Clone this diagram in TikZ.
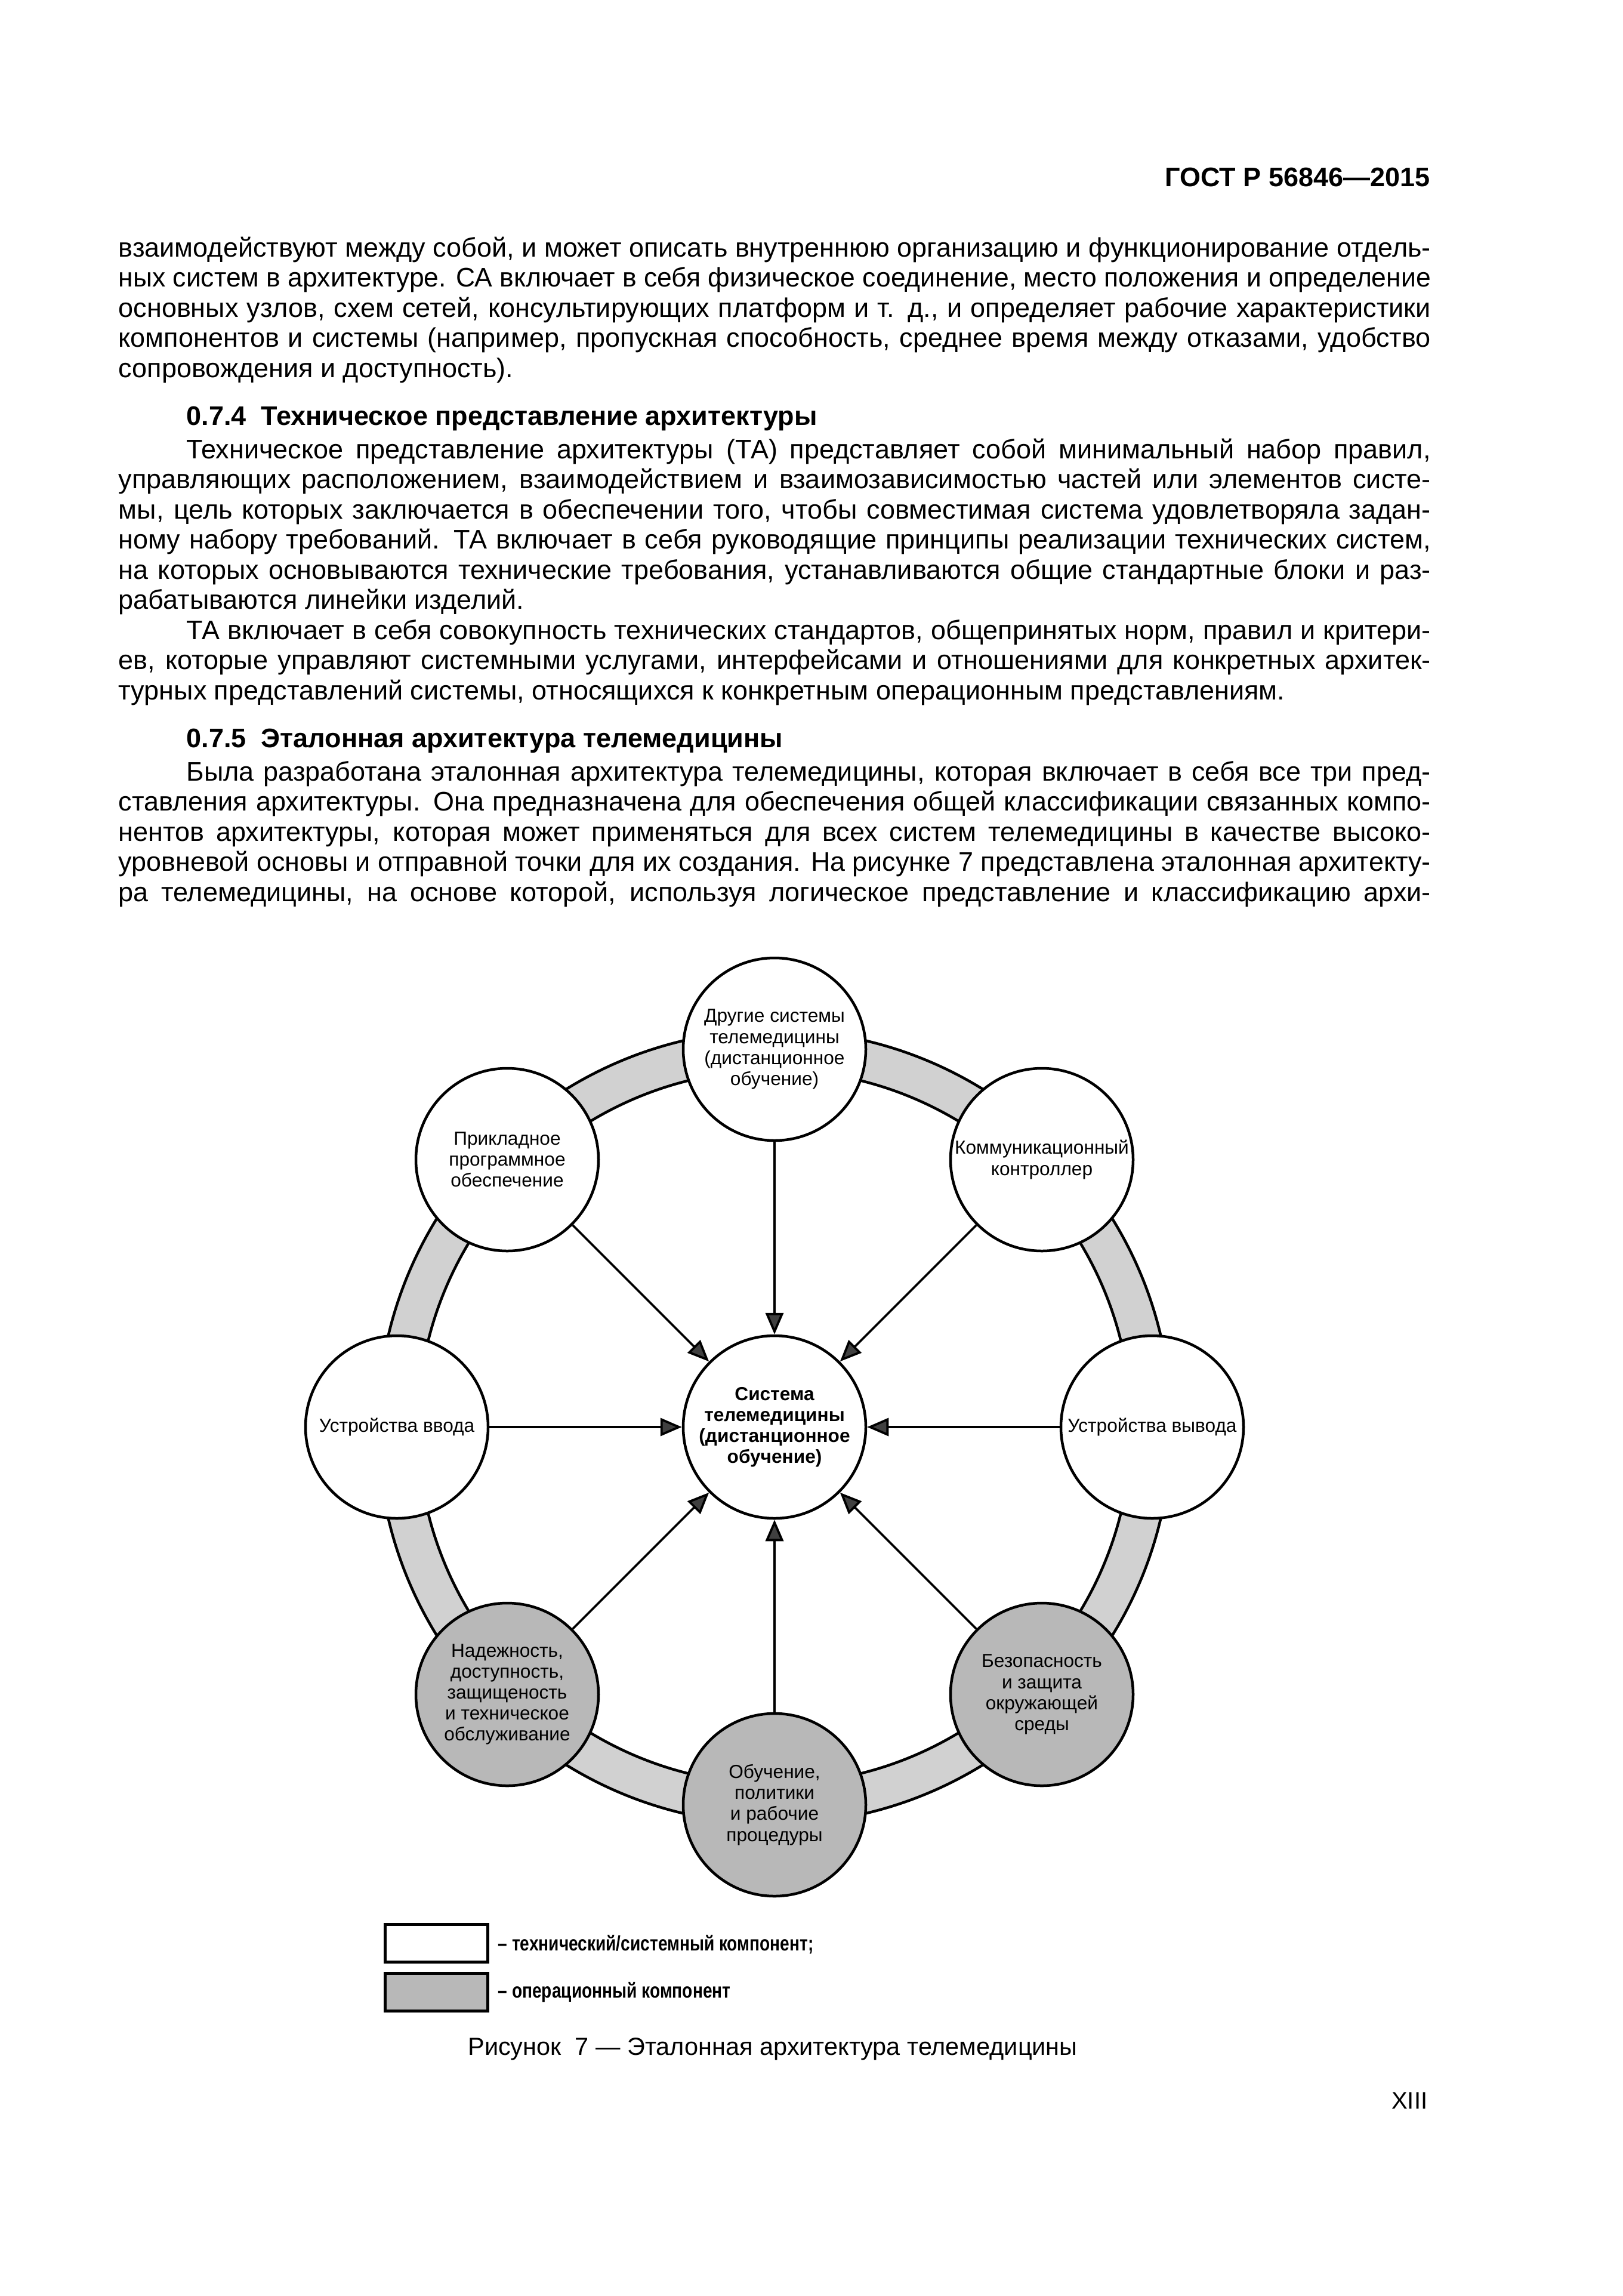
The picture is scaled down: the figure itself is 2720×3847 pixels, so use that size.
\documentclass[tikz,border=0pt]{standalone}
\usepackage{graphicx}
\usepackage{fontspec}
\setmainfont{Liberation Sans}
\newfontfamily\legendfont{Liberation Sans}[FakeStretch=0.8]
\usetikzlibrary{arrows.meta}
\definecolor{ringgray}{gray}{0.82}
\definecolor{opgray}{gray}{0.72}
\newsavebox\jbox
\newcommand\jline[2]{\sbox\jbox{#2}\ifdim\wd\jbox>#1\relax\resizebox{#1}{\height}{\usebox\jbox}\else\makebox[#1][s]{#2}\fi}
\tikzset{
  body/.style={anchor=base west, inner sep=0pt, font=\fontsize{12.8}{15.4}\selectfont},
  headg/.style={anchor=base west, inner sep=0pt, font=\fontsize{12.8}{15.4}\selectfont\bfseries},
  comp/.style={circle, draw, line width=0.45mm, minimum size=30.6mm, inner sep=0pt, align=center, fill=white, font=\fontsize{9}{10}\selectfont},
  opcomp/.style={comp, fill=opgray},
  arr/.style={line width=0.38mm, -{Triangle[length=3.6mm,width=3mm,fill=black!75]}},
  legbox/.style={rectangle, draw, line width=0.5mm, minimum width=17.2mm, minimum height=6.3mm, inner sep=0pt},
  legtext/.style={anchor=base west, inner sep=0pt, font=\legendfont\fontsize{10}{12}\selectfont\bfseries}
}
\begin{document}
\begin{tikzpicture}[x=0.1mm, y=-0.1mm]
\useasboundingbox (0,0) rectangle (2720,3847);
\fill[white] (0,0) rectangle (2720,3847);

% header
\node[anchor=base east, inner sep=0pt, font=\fontsize{12.8}{15}\selectfont\bfseries] (hdr) at (2397,312) {ГОСТ Р 56846—2015};

% paragraph 1
\node[body] (a1) at (198,430) {\jline{219.9mm}{взаимодействуют между собой, и может описать внутреннюю организацию и функционирование отдель-}};
\node[body] (a2) at (198,480.5) {\jline{219.9mm}{ных систем в архитектуре. СА включает в себя физическое соединение, место положения и определение}};
\node[body] (a3) at (198,531) {\jline{219.9mm}{основных узлов, схем сетей, консультирующих платформ и т. д., и определяет рабочие характеристики}};
\node[body] (a4) at (198,581.5) {\jline{219.9mm}{компонентов и системы (например, пропускная способность, среднее время между отказами, удобство}};
\node[body] (a5) at (198,632) {сопровождения и доступность).};

% heading 0.7.4
\node[headg] (h1) at (312,712.5) {0.7.4~~Техническое представление архитектуры};

% paragraph 2
\node[body] (b1) at (312,768) {\jline{208.5mm}{Техническое представление архитектуры (ТА) представляет собой минимальный набор правил,}};
\node[body] (b2) at (198,818.5) {\jline{219.9mm}{управляющих расположением, взаимодействием и взаимозависимостью частей или элементов систе-}};
\node[body] (b3) at (198,869) {\jline{219.9mm}{мы, цель которых заключается в обеспечении того, чтобы совместимая система удовлетворяла задан-}};
\node[body] (b4) at (198,919.5) {\jline{219.9mm}{ному набору требований. ТА включает в себя руководящие принципы реализации технических систем,}};
\node[body] (b5) at (198,970) {\jline{219.9mm}{на которых основываются технические требования, устанавливаются общие стандартные блоки и раз-}};
\node[body] (b6) at (198,1020.5) {рабатываются линейки изделий.};

% paragraph 3
\node[body] (c1) at (312,1071) {\jline{208.5mm}{ТА включает в себя совокупность технических стандартов, общепринятых норм, правил и критери-}};
\node[body] (c2) at (198,1121.5) {\jline{219.9mm}{ев, которые управляют системными услугами, интерфейсами и отношениями для конкретных архитек-}};
\node[body] (c3) at (198,1172) {турных представлений системы, относящихся к конкретным операционным представлениям.};

% heading 0.7.5
\node[headg] (h2) at (312,1252.5) {0.7.5~~Эталонная архитектура телемедицины};

% paragraph 4
\node[body] (d1) at (312,1308) {\jline{208.5mm}{Была разработана эталонная архитектура телемедицины, которая включает в себя все три пред-}};
\node[body] (d2) at (198,1358.5) {\jline{219.9mm}{ставления архитектуры. Она предназначена для обеспечения общей классификации связанных компо-}};
\node[body] (d3) at (198,1409) {\jline{219.9mm}{нентов архитектуры, которая может применяться для всех систем телемедицины в качестве высоко-}};
\node[body] (d4) at (198,1459.5) {\jline{219.9mm}{уровневой основы и отправной точки для их создания. На рисунке 7 представлена эталонная архитекту-}};
\node[body] (d5) at (198,1510) {\jline{219.9mm}{ра телемедицины, на основе которой, используя логическое представление и классификацию архи-}};

% ring
\coordinate (O) at (1298,2391);
\fill[ringgray, even odd rule] (O) circle[radius=665] (O) circle[radius=598];
\draw[line width=0.45mm] (O) circle[radius=665];
\draw[line width=0.45mm] (O) circle[radius=598];

% components
\node[comp] (T)  at (1298,1758) {Другие системы\\телемедицины\\(дистанционное\\обучение)};
\node[comp] (TL) at (850,1943)  {Прикладное\\программное\\обеспечение};
\node[comp] (TR) at (1746,1943) {Коммуникационный\\контроллер};
\node[comp] (L)  at (665,2391)  {Устройства ввода};
\node[comp] (R)  at (1931,2391) {Устройства вывода};
\node[comp, font=\fontsize{9}{10}\selectfont\bfseries] (C) at (1298,2391) {Система\\телемедицины\\(дистанционное\\обучение)};
\node[opcomp] (BL) at (850,2839)  {Надежность,\\доступность,\\защищеность\\и техническое\\обслуживание};
\node[opcomp] (B)  at (1298,3024) {Обучение,\\политики\\и рабочие\\процедуры};
\node[opcomp] (BR) at (1746,2839) {Безопасность\\и защита\\окружающей\\среды};

\foreach \n in {T,TL,TR,L,R,BL,B,BR} \draw[arr] (\n) -- (C);

% legend
\node[legbox, fill=white] (lg1) at (731,3255.5) {};
\node[legbox, fill=opgray] (lg2) at (731,3337.5) {};
\node[legtext] (lt1) at (834,3268) {– технический/системный компонент;};
\node[legtext] (lt2) at (834,3347) {– операционный компонент};

% caption
\node[anchor=base, inner sep=0pt, font=\fontsize{11.8}{14}\selectfont] (cap) at (1295,3443) {Рисунок~~7 — Эталонная архитектура телемедицины};

% page number
\node[anchor=base east, inner sep=0pt, font=\fontsize{11.4}{14}\selectfont] (pg) at (2393,3533) {XIII};
\end{tikzpicture}
\end{document}
